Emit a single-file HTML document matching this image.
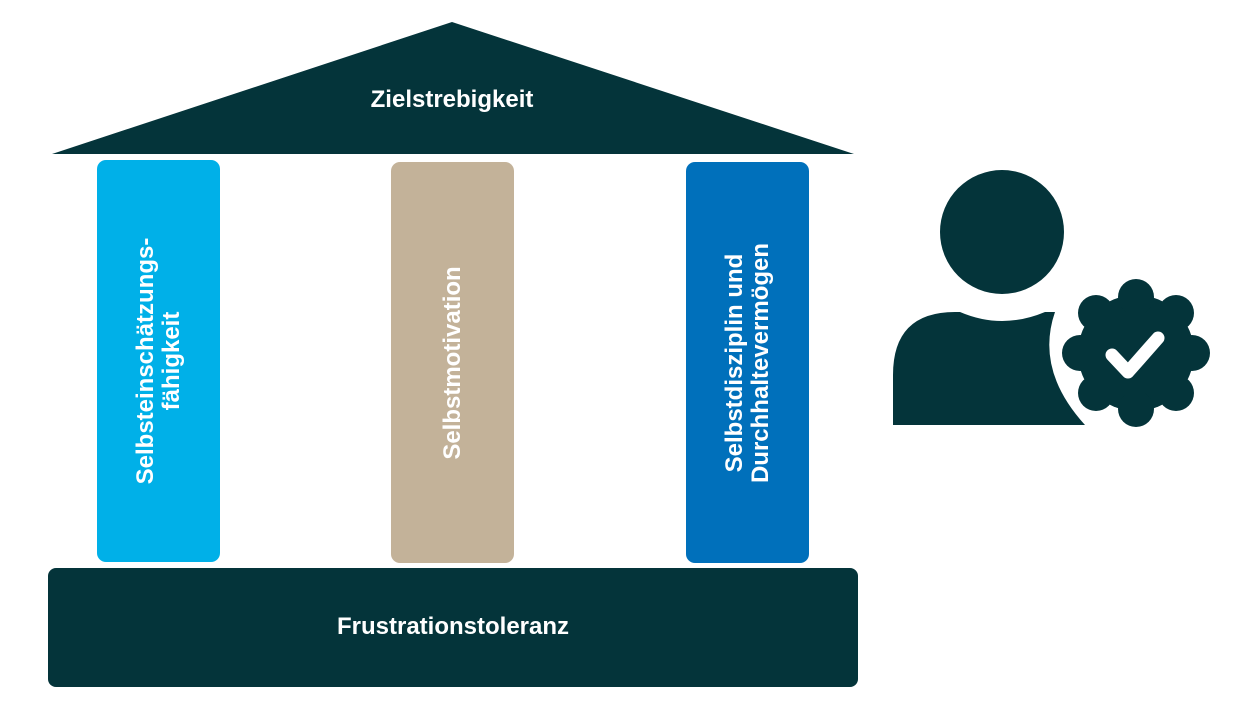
<!DOCTYPE html>
<html><head><style>
body{margin:0;width:1258px;height:708px;background:#fff;position:relative;overflow:hidden;font-family:"Liberation Sans",sans-serif}
.p{position:absolute;border-radius:9px}
.t{position:absolute;color:#fff;font-weight:bold;font-size:24px;text-align:center;line-height:26px;white-space:nowrap}
.v{position:absolute;left:50%;top:50%;transform:translate(-50%,-50%) rotate(-90deg);color:#fff;font-weight:bold;font-size:24px;line-height:26px;text-align:center;white-space:nowrap}
</style></head><body>
<svg width="1258" height="708" style="position:absolute;left:0;top:0">
<polygon points="452,22 854,154 52,154" fill="#04343a"/>
<circle cx="1002" cy="232" r="62" fill="#04343a"/>
<path d="M893,425 L893,375 Q893,312 955,312 L1055,312 Q1035,370 1085,425 Z" fill="#04343a"/>
<path d="M960,312 Q1002,330 1045,312 Z" fill="#fff"/>
<g fill="#04343a">
<circle cx="1136" cy="353" r="58"/>
<circle cx="1136" cy="297" r="18"/><circle cx="1136" cy="409" r="18"/>
<circle cx="1080" cy="353" r="18"/><circle cx="1192" cy="353" r="18"/>
<circle cx="1176" cy="313" r="18"/><circle cx="1096" cy="313" r="18"/>
<circle cx="1176" cy="393" r="18"/><circle cx="1096" cy="393" r="18"/>
</g>
<polyline points="1112,355 1128,372 1158,338" fill="none" stroke="#fff" stroke-width="13" stroke-linecap="round" stroke-linejoin="round"/>
</svg>
<div class="t" style="left:252px;top:87px;width:400px">Zielstrebigkeit</div>
<div class="p" style="left:97px;top:160px;width:123px;height:402px;background:#00b0e8"><div class="v">Selbsteinschätzungs-<br>fähigkeit</div></div>
<div class="p" style="left:391px;top:162px;width:123px;height:401px;background:#c3b299"><div class="v">Selbstmotivation</div></div>
<div class="p" style="left:686px;top:162px;width:123px;height:401px;background:#0070bb"><div class="v">Selbstdisziplin und<br>Durchhaltevermögen</div></div>
<div class="p" style="left:48px;top:568px;width:810px;height:119px;background:#04343a;border-radius:8px"></div>
<div class="t" style="left:48px;top:614px;width:810px">Frustrationstoleranz</div>
</body></html>
